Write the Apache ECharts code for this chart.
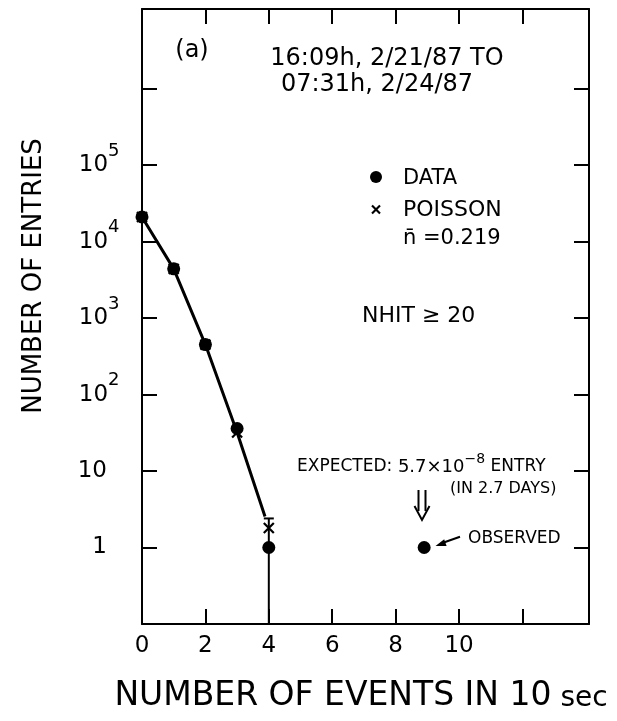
<!DOCTYPE html>
<html><head><meta charset="utf-8">
<script src="https://cdn.jsdelivr.net/npm/echarts@6/dist/echarts.min.js"></script>
<style>html,body{margin:0;padding:0;background:#fff}#c{width:617px;height:721px}</style>
</head><body><div id="c"></div>
<script>
// ---- data ----
const xTickLabels = [0, 2, 4, 6, 8, 10];
const xTickMarks = [2, 4, 6, 8, 10, 12];
const yTickLabels = [1, 10, 100, 1000, 10000, 100000];
const yTickMarks = [1, 10, 100, 1000, 10000, 100000, 1000000];
const dataX = [0, 1, 2, 3, 4, 8.9];
const dataY = [21000, 4400, 450, 36, 1, 1];
const poissonX = [0, 1, 2, 3, 4];
const poissonY = [21000, 4400, 450, 32, 1.8];
const fitX = [0, 1, 2, 3, 3.88];
const fitY = [21000, 4400, 450, 32, 2.55];
const errX = [4];
const errLow = [0.1];
const errHigh = [2.4];

const FONT = 'DejaVu Sans';
const chart = echarts.init(document.getElementById('c'), null, {renderer: 'canvas'});

const axisCommonX = {
  type: 'value', min: 0, max: 14.1, interval: 2,
  splitLine: {show: false},
  axisLine: {show: true, onZero: false, lineStyle: {color: '#000', width: 2}},
  axisTick: {show: true, inside: true, length: 15, customValues: xTickMarks, lineStyle: {color: '#000', width: 2}}
};
const axisCommonY = {
  type: 'log', logBase: 10, min: 0.1, max: 1.1e7, splitNumber: 8,
  splitLine: {show: false}, minorTick: {show: false},
  axisLine: {show: true, onZero: false, lineStyle: {color: '#000', width: 2}},
  axisTick: {show: true, inside: true, length: 15, customValues: yTickMarks, lineStyle: {color: '#000', width: 2}}
};

function yLabel(v) {
  const e = Math.round(Math.log10(v));
  if (!yTickLabels.some(t => Math.abs(Math.log10(t) - e) < 1e-6)) return '';
  if (e === 0) return '{b|1}';
  if (e === 1) return '{b|10}';
  return '{b|10}{s|' + e + '}';
}

const option = {
  backgroundColor: '#fff',
  animation: false,
  grid: {left: 142, right: 28, top: 9, bottom: 97},
  xAxis: [
    Object.assign({}, axisCommonX, {
      position: 'bottom',
      axisLabel: {show: true, customValues: xTickLabels, margin: 11, color: '#000', fontFamily: FONT, fontSize: 23,
        formatter: v => (xTickLabels.indexOf(Math.round(v)) >= 0 && Math.abs(v - Math.round(v)) < 1e-6) ? String(Math.round(v)) : ''}
    }),
    Object.assign({}, axisCommonX, {position: 'top', axisLabel: {show: false}})
  ],
  yAxis: [
    Object.assign({}, axisCommonY, {
      position: 'left',
      axisLabel: {show: true, customValues: yTickLabels, align: 'left', margin: 62, color: '#000', fontFamily: FONT,
        formatter: yLabel,
        rich: {
          b: {fontFamily: FONT, fontSize: 23, color: '#000', width: 27, align: 'right', lineHeight: 46},
          s: {fontFamily: FONT, fontSize: 18, color: '#000', lineHeight: 18, verticalAlign: 'top', padding: [0, 0, 0, 1]}
        }}
    }),
    Object.assign({}, axisCommonY, {position: 'right', axisLabel: {show: false}})
  ],
  series: [
    {
      type: 'line', name: 'fit', xAxisIndex: 0, yAxisIndex: 0,
      data: fitX.map((x, i) => [x, fitY[i]]),
      showSymbol: false, symbol: 'none',
      lineStyle: {color: '#000', width: 3}, z: 2
    },
    {
      type: 'custom', name: 'error', xAxisIndex: 0, yAxisIndex: 0,
      data: errX.map((x, i) => [x, errLow[i], errHigh[i]]),
      renderItem: function (params, api) {
        const x = api.value(0);
        const p1 = api.coord([x, api.value(1)]);
        const p2 = api.coord([x, api.value(2)]);
        return {type: 'group', children: [
          {type: 'line', shape: {x1: p1[0], y1: p1[1], x2: p2[0], y2: p2[1]}, style: {stroke: '#000', lineWidth: 2}},
          {type: 'line', shape: {x1: p2[0] - 5, y1: p2[1], x2: p2[0] + 5, y2: p2[1]}, style: {stroke: '#000', lineWidth: 2}}
        ]};
      }, z: 3
    },
    {
      type: 'scatter', name: 'POISSON', xAxisIndex: 0, yAxisIndex: 0,
      data: poissonX.map((x, i) => [x, poissonY[i]]),
      symbol: 'path://M0,0L10,10M10,0L0,10', symbolSize: 10,
      itemStyle: {color: 'none', borderColor: '#000', borderWidth: 2.2, opacity: 1}, z: 4
    },
    {
      type: 'scatter', name: 'DATA', xAxisIndex: 0, yAxisIndex: 0,
      data: dataX.map((x, i) => [x, dataY[i]]),
      symbol: 'circle', symbolSize: 13,
      itemStyle: {color: '#000', opacity: 1}, z: 5
    }
  ],
  graphic: [
    {type: 'text', x: 192, y: 51, style: {text: '(a)', font: '24px "DejaVu Sans"', fill: '#000', align: 'center', verticalAlign: 'middle'}},
    {type: 'text', x: 387, y: 59, style: {text: '16:09h, 2/21/87 TO', font: '24px "DejaVu Sans"', fill: '#000', align: 'center', verticalAlign: 'middle'}},
    {type: 'text', x: 377, y: 85, style: {text: '07:31h, 2/24/87', font: '24px "DejaVu Sans"', fill: '#000', align: 'center', verticalAlign: 'middle'}},
    {type: 'circle', shape: {cx: 376, cy: 177, r: 6}, style: {fill: '#000'}},
    {type: 'text', x: 403, y: 179, style: {text: 'DATA', font: '21px "DejaVu Sans"', fill: '#000', align: 'left', verticalAlign: 'middle'}},
    {type: 'line', shape: {x1: 372, y1: 205.5, x2: 380, y2: 213.5}, style: {stroke: '#000', lineWidth: 2.2}},
    {type: 'line', shape: {x1: 380, y1: 205.5, x2: 372, y2: 213.5}, style: {stroke: '#000', lineWidth: 2.2}},
    {type: 'text', x: 403, y: 210, style: {text: 'POISSON', font: '22px "DejaVu Sans"', fill: '#000', align: 'left', verticalAlign: 'middle'}},
    {type: 'text', x: 403, y: 239, style: {text: 'n\u0304 =0.219', font: '21px "DejaVu Sans"', fill: '#000', align: 'left', verticalAlign: 'middle'}},
    {type: 'text', x: 362, y: 316, style: {text: 'NHIT \u2265 20', font: '22px "DejaVu Sans"', fill: '#000', align: 'left', verticalAlign: 'middle'}},
    {type: 'text', x: 297, y: 467, style: {
      text: '{a|EXPECTED:}{n| 5.7\u00d710}{s|\u22128}{a| ENTRY}',
      align: 'left', verticalAlign: 'middle',
      rich: {
        a: {fontFamily: FONT, fontSize: 17, fill: '#000', lineHeight: 30},
        n: {fontFamily: FONT, fontSize: 18, fill: '#000', lineHeight: 30},
        s: {fontFamily: FONT, fontSize: 14, fill: '#000', lineHeight: 14, verticalAlign: 'top'}
      }}},
    {type: 'text', x: 450, y: 489, style: {text: '(IN 2.7 DAYS)', font: '16px "DejaVu Sans"', fill: '#000', align: 'left', verticalAlign: 'middle'}},
    {type: 'line', shape: {x1: 418.5, y1: 490, x2: 418.5, y2: 511}, style: {stroke: '#000', lineWidth: 2}},
    {type: 'line', shape: {x1: 425.5, y1: 490, x2: 425.5, y2: 511}, style: {stroke: '#000', lineWidth: 2}},
    {type: 'polyline', shape: {points: [[414.5, 506], [422, 520], [429.5, 506]]}, style: {stroke: '#000', lineWidth: 2, fill: null}},
    {type: 'line', shape: {x1: 443, y1: 542.8, x2: 460, y2: 536.7}, style: {stroke: '#000', lineWidth: 2}},
    {type: 'polygon', shape: {points: [[435.5, 546], [444.2, 539.3], [446.6, 545.9]]}, style: {fill: '#000'}},
    {type: 'text', x: 468, y: 539, style: {text: 'OBSERVED', font: '17px "DejaVu Sans"', fill: '#000', align: 'left', verticalAlign: 'middle'}},
    {type: 'text', x: 34.5, y: 276, rotation: Math.PI / 2, style: {text: 'NUMBER OF ENTRIES', font: '26px "DejaVu Sans"', fill: '#000', align: 'center', verticalAlign: 'middle'}},
    {type: 'text', x: 361, y: 693, style: {
      text: '{a|NUMBER OF EVENTS IN 10}{b| sec}',
      align: 'center', verticalAlign: 'middle',
      rich: {
        a: {fontFamily: FONT, fontSize: 33, fill: '#000', lineHeight: 40, verticalAlign: 'bottom'},
        b: {fontFamily: FONT, fontSize: 28, fill: '#000', lineHeight: 40, verticalAlign: 'bottom'}
      }}}
  ]
};
chart.setOption(option);
</script>
</body></html>
